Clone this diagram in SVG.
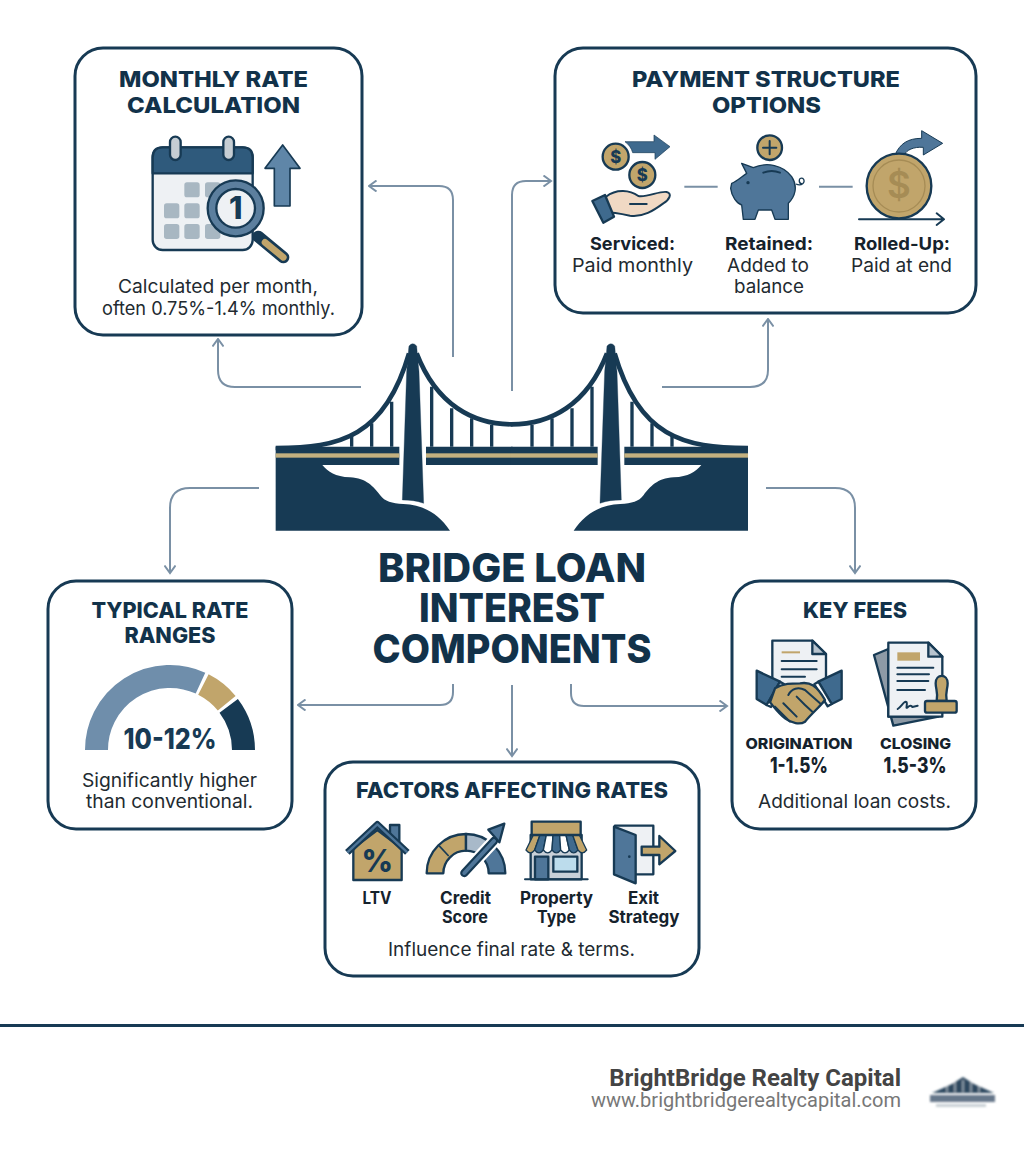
<svg xmlns="http://www.w3.org/2000/svg" xmlns:xlink="http://www.w3.org/1999/xlink" width="1024" height="1154" viewBox="0 0 1024 1154">
<style>
text{font-family:"Inter","Noto Sans","Liberation Sans",sans-serif;text-anchor:middle}
.card{fill:#fff;stroke:#173a54;stroke-width:3}
.h{font-weight:800;font-size:22px;fill:#12324a}
.m{font-weight:800;font-size:40px;fill:#12324a}
.b{font-weight:400;font-size:18.500px;fill:#222a30}
.s{font-weight:700;font-size:18px;fill:#15222c}
.l{font-weight:700;font-size:17px;fill:#15222c}
.c{fill:none;stroke:#7a90a5;stroke-width:2}
.n{stroke:#173a54;stroke-width:7;stroke-linejoin:round}
.nl{fill:none;stroke:#173a54;stroke-width:6;stroke-linecap:round;stroke-linejoin:round}
.navy{fill:#173a54}.blue{fill:#4f7699}.gold{fill:#c1a56b}.pale{fill:#eef1f4}
.g{font-weight:800;fill:#173a54}
.hang{stroke:#173a54;stroke-width:10}
</style>
<defs>
<marker id="ah" viewBox="0 0 12 12" refX="10.5" refY="6" markerWidth="12" markerHeight="12" markerUnits="userSpaceOnUse" orient="auto"><path d="M3,0.5 L10.5,6 L3,11.5" fill="none" stroke="#7a90a5" stroke-width="2"/></marker>
<filter id="blur" x="-10%" y="-10%" width="120%" height="120%"><feGaussianBlur stdDeviation="0.9"/></filter>
<g id="half">
<path class="navy" d="M47,350H418V405H187C205,425 225,440 270,442C320,445 340,470 360,495C375,515 395,520 430,522C490,525 535,550 570,602H47Z"/>
<rect x="47" y="370" width="371" height="13" fill="#c3b07f"/>
<path d="M47,354C240,354 375,320 447,70" fill="none" stroke="#173a54" stroke-width="14"/>
<path d="M470,70C530,225 640,283 757,283" fill="none" stroke="#173a54" stroke-width="14"/>
<path class="hang" d="M275,350V316M335,350V280M395,350V215M515,350V170M575,350V235M635,350V265M695,350V285"/>
<path d="M440,124C444,95 445,60 447,48Q458,34 470,48C472,70 474,95 477,124L491,520C470,512 450,510 427,510Z" fill="#173a54" stroke="#173a54" stroke-width="1"/>
<path d="M498,350H758V405H498Z" class="navy"/>
<rect x="498" y="370" width="260" height="13" fill="#c3b07f"/>
</g>
</defs>
<rect width="1024" height="1154" fill="#fff"/>

<g id="connectors">
<path class="c" marker-end="url(#ah)" d="M453,357V200Q453,186 439,186H369"/>
<path class="c" marker-end="url(#ah)" d="M361,387H235Q218,387 218,370V339"/>
<path class="c" marker-end="url(#ah)" d="M512,391V195Q512,181 526,181H551"/>
<path class="c" marker-end="url(#ah)" d="M662,387H750Q768,387 768,370V319"/>
<path class="c" marker-end="url(#ah)" d="M259,488H190Q170,488 170,508V573"/>
<path class="c" marker-end="url(#ah)" d="M766,488H835Q855,488 855,508V573"/>
<path class="c" marker-end="url(#ah)" d="M453,684V692Q453,705 440,705H298"/>
<path class="c" marker-end="url(#ah)" d="M512,685V756"/>
<path class="c" marker-end="url(#ah)" d="M571,684V693Q571,706 584,706H727"/>
</g>

<g id="bridge" transform="translate(260,330) scale(.33333)">
<use href="#half"/>
<use href="#half" transform="translate(1511,0) scale(-1,1)"/>
</g>

<g id="title">
<text class="m" x="512" y="582" textLength="268" lengthAdjust="spacingAndGlyphs">BRIDGE LOAN</text>
<text class="m" x="512" y="622" textLength="186" lengthAdjust="spacingAndGlyphs">INTEREST</text>
<text class="m" x="512" y="663" textLength="279" lengthAdjust="spacingAndGlyphs">COMPONENTS</text>
</g>

<g id="monthly-rate">
<rect class="card" x="75" y="48" width="287" height="287" rx="28"/>
<text class="h" x="213.500" y="87" textLength="189" lengthAdjust="spacingAndGlyphs">MONTHLY RATE</text>
<text class="h" x="213.500" y="113" textLength="173" lengthAdjust="spacingAndGlyphs">CALCULATION</text>
<g transform="translate(70,40) scale(.33333)">
<rect x="248" y="322" width="300" height="308" rx="30" class="pale n"/>
<path d="M248,400V352Q248,322 278,322H518Q548,322 548,352V400Z" fill="#2f5a7c" class="n"/>
<rect x="300" y="290" width="32" height="70" rx="16" fill="#c5cdd3" class="n"/>
<rect x="460" y="290" width="32" height="70" rx="16" fill="#c5cdd3" class="n"/>
<g fill="#a8b7c2"><rect x="343" y="427" width="46" height="45" rx="8"/><rect x="405" y="427" width="46" height="45" rx="8"/><rect x="282" y="490" width="46" height="45" rx="8"/><rect x="343" y="490" width="46" height="45" rx="8"/><rect x="282" y="552" width="46" height="45" rx="8"/><rect x="343" y="552" width="46" height="45" rx="8"/><rect x="405" y="552" width="46" height="45" rx="8"/></g>
<path d="M638,315L690,385H660V498H613V385H585Z" fill="#5f86a8" stroke="#173a54" stroke-width="5" stroke-linejoin="round"/>
<path d="M565,590L640,652" stroke="#173a54" stroke-width="36" stroke-linecap="round"/>
<path d="M585,607L640,652" stroke="#c1a56b" stroke-width="20" stroke-linecap="round"/>
<circle cx="497" cy="505" r="84" fill="#5c7f9e" class="n"/>
<circle cx="497" cy="505" r="58" class="pale n"/>
<text class="g" x="497" y="538" font-size="92">1</text>
</g>
<text class="b" x="218" y="293" textLength="200" lengthAdjust="spacingAndGlyphs">Calculated per month,</text>
<text class="b" x="218.500" y="315" textLength="233" lengthAdjust="spacingAndGlyphs">often 0.75%-1.4% monthly.</text>
</g>

<g id="payment-structure">
<rect class="card" x="555" y="48" width="421" height="265" rx="28"/>
<text class="h" x="766" y="87" textLength="268" lengthAdjust="spacingAndGlyphs">PAYMENT STRUCTURE</text>
<text class="h" x="766.500" y="113" textLength="109" lengthAdjust="spacingAndGlyphs">OPTIONS</text>
<g transform="translate(550,40) scale(.33333)">
<path d="M403,440H503M807,440H908" stroke="#7a90a5" stroke-width="6" fill="none"/>
<circle cx="197" cy="350" r="39" class="gold n"/><text class="g" x="197" y="368" font-size="50">$</text>
<circle cx="277" cy="405" r="39" class="gold n"/><text class="g" x="277" y="423" font-size="50">$</text>
<path d="M225,305H312V285L360,320L315,358V338H248C245,325 235,312 225,305Z" fill="#3f6a8e" stroke="#173a54" stroke-width="2"/>
<path d="M168,470C200,445 240,450 265,468C290,473 330,452 350,456C368,460 358,480 340,490C310,512 280,532 240,527C215,522 190,517 165,517Z" fill="#f0d9c4" stroke="#173a54" stroke-width="6" stroke-linejoin="round"/>
<path d="M240,492H290" class="nl"/>
<path d="M127,483L165,465L192,530L160,548Z" fill="#3f6a8e" class="n"/>
<path d="M575,370L610,383C650,365 700,375 725,410C745,440 735,470 715,490V538H675L665,510H625L615,538H580L575,495C560,490 545,470 542,445L545,430C560,425 575,410 590,400Z" class="blue" stroke="#173a54" stroke-width="4" stroke-linejoin="round"/>
<circle cx="594" cy="428" r="5" class="navy"/>
<path d="M640,398Q665,388 690,398" class="nl" stroke-width="5"/>
<path d="M738,432C755,440 770,425 758,415C745,410 745,430 755,432" fill="none" stroke="#173a54" stroke-width="4"/>
<circle cx="659" cy="323" r="37" class="gold n"/>
<path d="M659,303V343M639,323H679" class="nl"/>
<path d="M1035,345C1050,310 1075,295 1115,295V272L1178,310L1120,345V322C1090,320 1070,330 1062,345Z" class="blue" stroke="#173a54" stroke-width="3"/>
<circle cx="1047" cy="438" r="97" class="gold n"/>
<circle cx="1047" cy="438" r="78" fill="none" stroke="#a68c55" stroke-width="4"/>
<text x="1047" y="475" font-size="110" font-weight="600" fill="#a68c55">$</text>
<path d="M927,538H1180M1160,520L1182,538L1160,555" class="nl"/>
</g>
<text class="s" x="632.500" y="250" textLength="85" lengthAdjust="spacingAndGlyphs">Serviced:</text>
<text class="b" x="632.500" y="272" textLength="121" lengthAdjust="spacingAndGlyphs">Paid monthly</text>
<text class="s" x="769" y="250" textLength="88" lengthAdjust="spacingAndGlyphs">Retained:</text>
<text class="b" x="768" y="272" textLength="82" lengthAdjust="spacingAndGlyphs">Added to</text>
<text class="b" x="769" y="293" textLength="70" lengthAdjust="spacingAndGlyphs">balance</text>
<text class="s" x="902" y="250" textLength="96" lengthAdjust="spacingAndGlyphs">Rolled-Up:</text>
<text class="b" x="901.500" y="272" textLength="101" lengthAdjust="spacingAndGlyphs">Paid at end</text>
</g>

<g id="typical-rate">
<rect class="card" x="48" y="581" width="244" height="248" rx="28"/>
<text class="h" x="170" y="618" textLength="157" lengthAdjust="spacingAndGlyphs">TYPICAL RATE</text>
<text class="h" x="170" y="643" textLength="91" lengthAdjust="spacingAndGlyphs">RANGES</text>
<g fill="none" stroke-width="23">
<path d="M96.500,750A73.500,73.500 0 0 1 200.500,683.100" stroke="#6f8eab"/>
<path d="M203.400,684.500A73.500,73.500 0 0 1 226.700,703.200" stroke="#c1a56b"/>
<path d="M228.700,705.800A73.500,73.500 0 0 1 243.500,750" stroke="#173a54"/>
</g>
<text class="g" x="170" y="749" font-size="28" textLength="93" lengthAdjust="spacingAndGlyphs">10-12%</text>
<text class="b" x="169.500" y="787" textLength="175" lengthAdjust="spacingAndGlyphs">Significantly higher</text>
<text class="b" x="169.500" y="808" textLength="167" lengthAdjust="spacingAndGlyphs">than conventional.</text>
</g>

<g id="factors">
<rect class="card" x="325" y="762" width="374" height="214" rx="28"/>
<text class="h" x="512" y="798" textLength="312" lengthAdjust="spacingAndGlyphs">FACTORS AFFECTING RATES</text>
<g transform="translate(320,755) scale(.33333)">
<rect x="210" y="210" width="28" height="50" class="blue n"/>
<path d="M100,280L172,225L245,280V375H100Z" class="gold n"/>
<path d="M82,292L172,208L262,292" fill="none" stroke="#173a54" stroke-width="20" stroke-linejoin="round"/>
<path d="M82,292L172,208L262,292" fill="none" stroke="#4f7699" stroke-width="7" stroke-linejoin="round"/>
<text class="g" x="172" y="352" font-size="92">%</text>

<g class="n" stroke-width="5">
<path d="M320,355A118,118 0 0 1 438,237V287A68,68 0 0 0 370,355Z" class="gold"/>
<path d="M438,237A118,118 0 0 1 521.400,271.600L486.100,306.900A68,68 0 0 0 438,287Z" fill="#a8b9c9"/>
<path d="M521.400,271.600A118,118 0 0 1 556,355H506A68,68 0 0 0 486.100,306.900Z" class="blue"/>
</g>
<path d="M357,272L386,303" stroke="#173a54" stroke-width="5"/>
<path d="M433,354L522,258" stroke="#fff" stroke-width="38"/>
<path d="M433,354L522,258" stroke="#173a54" stroke-width="25" stroke-linecap="round"/>
<path d="M433,354L522,258" stroke="#4f7699" stroke-width="12" stroke-linecap="round"/>
<path d="M553,206L505,224L538,262Z" class="blue n" stroke-width="5"/>

<rect x="632" y="240" width="153" height="133" fill="#c8d0d8" class="n" stroke-width="5"/>
<g stroke="#173a54" stroke-width="4" stroke-linejoin="round">
<path d="M618,285L640,240H660L644,285Q631,302 618,285Z" class="gold"/>
<path d="M644,285L660,240H679L670,285Q657,302 644,285Z" fill="#3f6a8e"/>
<path d="M670,285L679,240H699L696,285Q683,302 670,285Z" fill="#fff"/>
<path d="M696,285L699,240H719L722,285Q709,302 696,285Z" fill="#3f6a8e"/>
<path d="M722,285L719,240H738L748,285Q735,302 722,285Z" fill="#fff"/>
<path d="M748,285L738,240H758L774,285Q761,302 748,285Z" fill="#3f6a8e"/>
<path d="M774,285L758,240H778L800,285Q787,302 774,285Z" class="gold"/>
</g>
<rect x="635" y="200" width="147" height="40" class="gold n" stroke-width="6"/>
<rect x="645" y="305" width="40" height="68" class="blue n" stroke-width="5"/>
<rect x="700" y="305" width="72" height="45" fill="#bcdcec" class="n" stroke-width="5"/>
<path d="M615,373H803" class="nl"/>

<rect x="885" y="212" width="115" height="146" class="pale n" stroke-width="5"/>
<path d="M882,215L947,240V385L882,358Z" class="blue n" stroke-width="5"/>
<circle cx="928" cy="305" r="4" class="navy"/>
<path d="M965,275H1018V243L1066,288L1018,328V300H965Z" class="gold n" stroke-width="5"/>
</g>
<text class="l" x="377" y="904" textLength="29" lengthAdjust="spacingAndGlyphs">LTV</text>
<text class="l" x="465.500" y="904" textLength="51" lengthAdjust="spacingAndGlyphs">Credit</text>
<text class="l" x="465" y="923" textLength="46" lengthAdjust="spacingAndGlyphs">Score</text>
<text class="l" x="556.500" y="904" textLength="73" lengthAdjust="spacingAndGlyphs">Property</text>
<text class="l" x="556.500" y="923" textLength="39" lengthAdjust="spacingAndGlyphs">Type</text>
<text class="l" x="643.500" y="904" textLength="31" lengthAdjust="spacingAndGlyphs">Exit</text>
<text class="l" x="644" y="923" textLength="71" lengthAdjust="spacingAndGlyphs">Strategy</text>
<text class="b" x="511.500" y="956" textLength="247" lengthAdjust="spacingAndGlyphs">Influence final rate &amp; terms.</text>
</g>

<g id="key-fees">
<rect class="card" x="732" y="581" width="244" height="248" rx="28"/>
<text class="h" x="855" y="618" textLength="104" lengthAdjust="spacingAndGlyphs">KEY FEES</text>
<g transform="translate(725,575) scale(.33333)">
<path d="M142,197H262L303,237V335H142Z" class="pale n" stroke-width="6"/>
<path d="M262,197V237H303Z" fill="#b8c4ce" class="n" stroke-width="5"/>
<path d="M170,232H225" stroke="#c1a56b" stroke-width="6"/>
<path d="M170,258H275M170,283H275M170,305H240" class="nl" stroke-width="5"/>
<path d="M95,287L165,320L125,390L95,372Z" fill="#3f6a8e" class="n" stroke-width="5"/>
<path d="M350,287L280,320L320,387L350,372Z" fill="#3f6a8e" class="n" stroke-width="5"/>
<path d="M165,320L125,390L138,396L178,328Z M280,320L320,387L308,394L268,328Z" fill="#fff" class="n" stroke-width="4"/>
<path d="M150,340C175,325 200,325 225,325C255,320 275,330 300,375C285,395 260,415 240,440C225,450 200,445 180,430C165,420 150,400 135,382Z" class="gold n" stroke-width="5"/>
<path d="M190,360C200,340 220,335 240,345L285,385M150,395L195,440M175,385L215,425M240,390L262,410M215,365L240,390" class="nl" stroke-width="4"/>
<path d="M447,240L490,222V425L640,425L505,452Z" fill="#8d9aa6" class="n" stroke-width="5"/>
<path d="M490,203H610L652,245V425H490Z" class="pale n" stroke-width="6"/>
<path d="M610,203V245H652Z" fill="#b8c4ce" class="n" stroke-width="5"/>
<rect x="517" y="232" width="68" height="25" class="gold"/>
<path d="M517,278H625M517,298H612M517,318H610M517,345H600" class="nl" stroke-width="5"/>
<path d="M518,402C530,395 538,375 545,382C548,392 540,402 548,397C555,390 560,392 562,396L578,392" class="nl" stroke-width="3"/>
<path d="M632,325C632,295 668,295 668,325C668,345 660,350 665,378H635C640,350 632,345 632,325Z" class="gold n" stroke-width="5"/>
<rect x="600" y="378" width="95" height="35" rx="6" class="gold n" stroke-width="6"/>
</g>
<text x="799" y="749" font-size="15" font-weight="800" fill="#15222c" textLength="107" lengthAdjust="spacingAndGlyphs">ORIGINATION</text>
<text x="915.500" y="749" font-size="15" font-weight="800" fill="#15222c" textLength="71" lengthAdjust="spacingAndGlyphs">CLOSING</text>
<text x="799" y="773" font-size="21" font-weight="800" fill="#15222c" textLength="58" lengthAdjust="spacingAndGlyphs">1-1.5%</text>
<text x="915" y="773" font-size="21" font-weight="800" fill="#15222c" textLength="63" lengthAdjust="spacingAndGlyphs">1.5-3%</text>
<text class="b" x="854.500" y="808" textLength="193" lengthAdjust="spacingAndGlyphs">Additional loan costs.</text>
</g>

<g id="footer">
<rect x="0" y="1024" width="1024" height="3" fill="#173a54"/>
<text x="901" y="1086" style="text-anchor:end;font-family:Roboto,'Liberation Sans',sans-serif;font-weight:700" font-size="24" fill="#444">BrightBridge Realty Capital</text>
<text x="901" y="1107" style="text-anchor:end;font-family:Roboto,'Liberation Sans',sans-serif" font-size="20" fill="#777">www.brightbridgerealtycapital.com</text>
<g filter="url(#blur)">
<path d="M932,1093L952,1084L963,1077L974,1084L994,1093Z" fill="#2f4a60"/>
<path d="M947,1092V1086M955,1092V1082M963,1092V1080M971,1092V1082M979,1092V1086" stroke="#c4ccd2" stroke-width="1.200"/>
<rect x="930" y="1095" width="65" height="7" fill="#66778a"/>
<rect x="936" y="1104" width="50" height="3" fill="#c9d0d5"/>
</g>
</g>
</svg>
